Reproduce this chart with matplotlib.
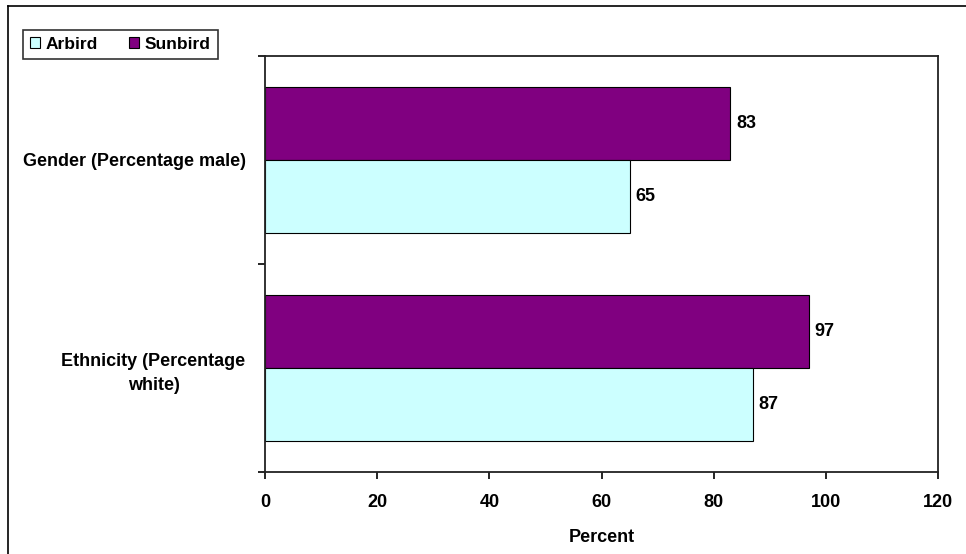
import matplotlib.pyplot as plt
from matplotlib.lines import Line2D
from matplotlib.patches import Patch
import numpy as np

categories = ["Gender (Percentage male)", "Ethnicity (Percentage\nwhite)"]
series_names = ["Arbird", "Sunbird"]
arbird = [65, 87]
sunbird = [83, 97]
x_ticks = [0, 20, 40, 60, 80, 100, 120]

colors = {"Arbird": "#CCFFFF", "Sunbird": "#800080"}

plt.rcParams['font.family'] = ['Liberation Sans', 'DejaVu Sans']
plt.rcParams['font.weight'] = 'bold'

FS = 13

fig = plt.figure(figsize=(9.66, 5.54), dpi=100)
W, H = 966, 554
ax = fig.add_axes([265 / W, 1 - 472 / H, (938 - 265) / W, (472 - 56) / H])

y = np.arange(len(categories))
h = 0.35
bars_s = ax.barh(y - h / 2, sunbird, height=h, color=colors["Sunbird"],
                 edgecolor="black", linewidth=0.8)
bars_a = ax.barh(y + h / 2, arbird, height=h, color=colors["Arbird"],
                 edgecolor="black", linewidth=0.8)

for bars, vals in ((bars_s, sunbird), (bars_a, arbird)):
    for b, v in zip(bars, vals):
        ax.text(v + 1.0, b.get_y() + b.get_height() / 2, f"{v}",
                va="center", ha="left", fontsize=FS, fontweight="bold")

ax.set_xlim(0, 120)
ax.set_ylim(1.5, -0.5)
ax.set_xticks(x_ticks)
ax.set_xticklabels([str(t) for t in x_ticks], fontsize=FS, fontweight="bold")
ax.set_yticks([-0.5, 0.5, 1.5])
ax.set_yticklabels([])
ax.set_yticks(y, minor=True)
ax.set_yticklabels(categories, minor=True, fontsize=FS, fontweight="bold",
                   multialignment="center", linespacing=1.5)
ax.tick_params(axis="y", which="minor", length=0, pad=14)
ax.tick_params(axis="y", which="major", length=5, width=1.2, direction="out")
ax.tick_params(axis="x", length=5, width=1.2, direction="out", pad=11)
ax.set_xlabel("Percent", fontsize=FS, fontweight="bold", labelpad=13)

for s in ax.spines.values():
    s.set_linewidth(1.3)
    s.set_color("#222222")

handles = [Patch(facecolor=colors[n], edgecolor="black", linewidth=0.8, label=n)
           for n in series_names]
leg = fig.legend(handles=handles, loc="upper left",
                 bbox_to_anchor=(23 / W, 1 - 30 / H), ncol=2,
                 frameon=True, fancybox=False, edgecolor="black",
                 fontsize=12.5, handlelength=0.6, handleheight=0.6,
                 handletextpad=0.3, columnspacing=1.8, borderpad=0.4,
                 borderaxespad=0)
leg.get_frame().set_linewidth(1.2)

# outer frame on the top and left edges
fig.add_artist(Line2D([8 / W, 1.0], [1 - 6 / H, 1 - 6 / H], transform=fig.transFigure,
                      color="black", linewidth=1.2))
fig.add_artist(Line2D([8 / W, 8 / W], [0.0, 1 - 6 / H], transform=fig.transFigure,
                      color="black", linewidth=1.2))

fig.savefig("out.png", dpi=100)
